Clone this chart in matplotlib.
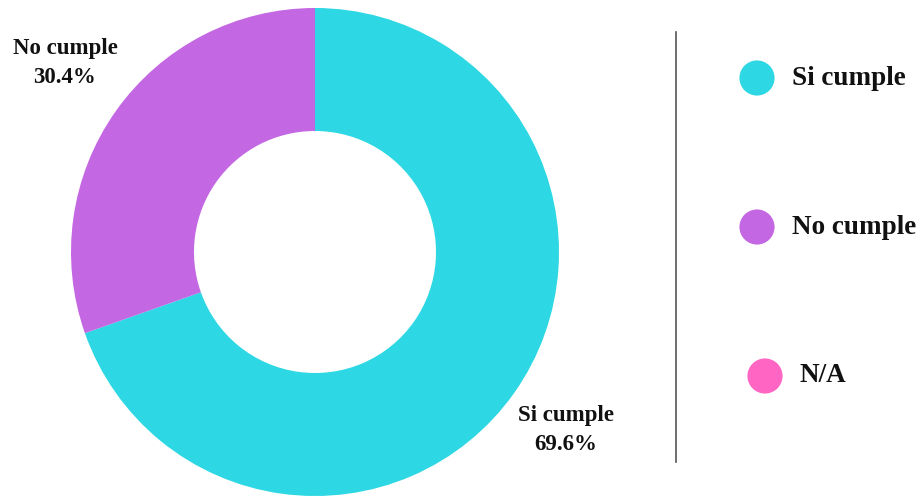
import matplotlib

matplotlib.use("Agg")
import matplotlib.pyplot as plt

# datos
categories = ["Si cumple", "No cumple", "N/A"]
values = [69.6, 30.4, 0.0]
colors = ["#2dd7e3", "#c467e3", "#ff66c4"]

W, H = 920, 498
fig = plt.figure(figsize=(W / 100, H / 100), dpi=100)
ax = fig.add_axes([0, 0, 1, 1])

font = dict(family="Liberation Serif", weight="bold", color="#111111")

# donut (sin N/A, que vale 0)
shown = [i for i, v in enumerate(values) if v > 0]
labels = [f"{categories[i]}\n{values[i]:.1f}%" for i in shown]
wedges, texts = ax.pie(
    [values[i] for i in shown],
    colors=[colors[i] for i in shown],
    labels=labels,
    labeldistance=1.28,
    startangle=90,
    counterclock=False,
    radius=244,
    center=(315, H - 252),
    wedgeprops=dict(width=123, linewidth=0),
    textprops=dict(fontsize=16.5, linespacing=1.5, **font),
    frame=True,
)
for t in texts:
    t.set_ha("center")
    t.set_va("center")
# pequeño ajuste de posición de etiquetas
texts[0].set_position((566, H - 430))
texts[1].set_position((65, H - 63))

ax.set_aspect("equal")
ax.axis("off")
ax.set_xlim(0, W)
ax.set_ylim(0, H)

# separador
ax.plot([676, 676], [H - 32, H - 462], color="#555555", lw=1.2)

# leyenda
for k, (cat, col) in enumerate(zip(categories, colors)):
    y = H - (78 + 149 * k)
    x = 757 if k < 2 else 765
    ax.scatter([x], [y], s=640, color=col, edgecolors="none")
    ax.text(x + 35, y, cat, fontsize=19.5, ha="left", va="center", **font)

fig.savefig("out.png", dpi=100)
